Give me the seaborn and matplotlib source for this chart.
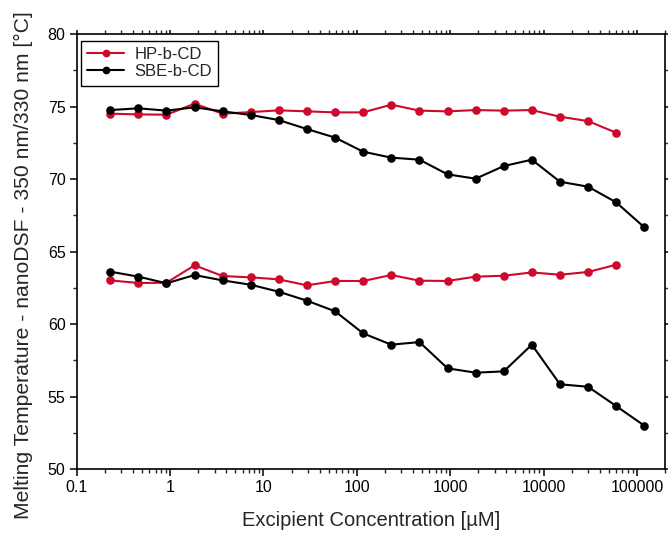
import numpy as np
import pandas as pd
import matplotlib
matplotlib.use("Agg")
import matplotlib.pyplot as plt
import matplotlib.ticker as mticker
import seaborn as sns

# Excipient concentrations (µM), two-fold dilution series
conc_sbe = [0.229, 0.458, 0.916, 1.83, 3.66, 7.32, 14.6, 29.3, 58.6, 117,
            234, 469, 938, 1875, 3750, 7500, 15000, 30000, 60000, 120000]
conc_hp = conc_sbe[:-1]

# Melting temperatures (°C), upper and lower transition for each excipient
hp_upper = [74.51, 74.46, 74.44, 75.20, 74.51, 74.62, 74.74, 74.67, 74.60, 74.60,
            75.13, 74.72, 74.67, 74.76, 74.72, 74.76, 74.30, 74.00, 73.20]
hp_lower = [63.02, 62.84, 62.86, 64.06, 63.32, 63.23, 63.09, 62.68, 62.98, 62.98,
            63.39, 63.00, 62.98, 63.28, 63.34, 63.57, 63.41, 63.60, 64.10]
sbe_upper = [74.76, 74.88, 74.72, 74.95, 74.67, 74.42, 74.07, 73.45, 72.86, 71.89,
             71.48, 71.34, 70.33, 70.03, 70.90, 71.34, 69.82, 69.48, 68.40, 66.68]
sbe_lower = [63.62, 63.28, 62.82, 63.39, 63.02, 62.72, 62.24, 61.62, 60.89, 59.37,
             58.59, 58.77, 56.96, 56.66, 56.75, 58.59, 55.86, 55.69, 54.36, 53.01]

excipients = ["HP-b-CD", "SBE-b-CD"]
colors = {"HP-b-CD": "#CE0A2C", "SBE-b-CD": "#000000"}

frames = []
for name, conc, series in [("HP-b-CD", conc_hp, [hp_upper, hp_lower]),
                           ("SBE-b-CD", conc_sbe, [sbe_upper, sbe_lower])]:
    for k, vals in enumerate(series):
        frames.append(pd.DataFrame({"conc": conc, "tm": vals,
                                    "excipient": name, "run": f"{name}-{k}"}))
df = pd.concat(frames, ignore_index=True)

sns.set_style("ticks")
plt.rcParams["font.family"] = ["Liberation Sans", "DejaVu Sans"]

fig = plt.figure(figsize=(6.68, 5.41), dpi=100)
ax = fig.add_axes([0.1148, 0.1325, 0.8807, 0.8046])

sns.lineplot(data=df, x="conc", y="tm", hue="excipient", units="run",
             estimator=None, hue_order=excipients, palette=colors,
             marker="o", markersize=6.2, markeredgewidth=0, linewidth=1.5,
             sort=False, ax=ax)

ax.set_xscale("log")
ax.set_xlim(0.1, 2.0e5)
ax.set_ylim(50, 80)
ax.xaxis.set_major_locator(mticker.LogLocator(base=10, numticks=10))
ax.xaxis.set_major_formatter(mticker.FuncFormatter(lambda v, p: f"{v:g}" if v < 1 else f"{int(round(v))}"))
ax.xaxis.set_minor_locator(mticker.LogLocator(base=10, subs=np.arange(2, 10), numticks=100))
ax.xaxis.set_minor_formatter(mticker.NullFormatter())
ax.yaxis.set_major_locator(mticker.MultipleLocator(5))
ax.yaxis.set_minor_locator(mticker.MultipleLocator(2.5))

for side in ["left", "right", "top", "bottom"]:
    ax.spines[side].set_visible(True)
    ax.spines[side].set_linewidth(1.2)
    ax.spines[side].set_color("black")

ax.tick_params(axis="both", which="major", direction="out", length=5, width=1.1,
               labelsize=11.5, colors="black", pad=3)
ax.tick_params(axis="both", which="minor", direction="out", length=3, width=1.0)
ax.tick_params(top=True, right=True, which="both", labeltop=False, labelright=False)
for t in ax.xaxis.get_ticklines(minor=False)[1::2] + ax.yaxis.get_ticklines(minor=False)[1::2]:
    t.set_markersize(3)

ax.set_xlabel("Excipient Concentration [µM]", fontsize=14.5, labelpad=11)
ax.set_ylabel("Melting Temperature - nanoDSF - 350 nm/330 nm [°C]", fontsize=15.2)
ax.yaxis.set_label_coords(-0.074, 0.47)

leg = ax.legend(loc="upper left", bbox_to_anchor=(0.007, 0.985), fontsize=12,
                frameon=True, fancybox=False, framealpha=1, edgecolor="black",
                handlelength=2.2, handletextpad=0.6, borderpad=0.4,
                borderaxespad=0.0, labelspacing=0.12, markerscale=0.9, title=None)
leg.get_frame().set_linewidth(1.0)

fig.savefig("out.png", dpi=100)
